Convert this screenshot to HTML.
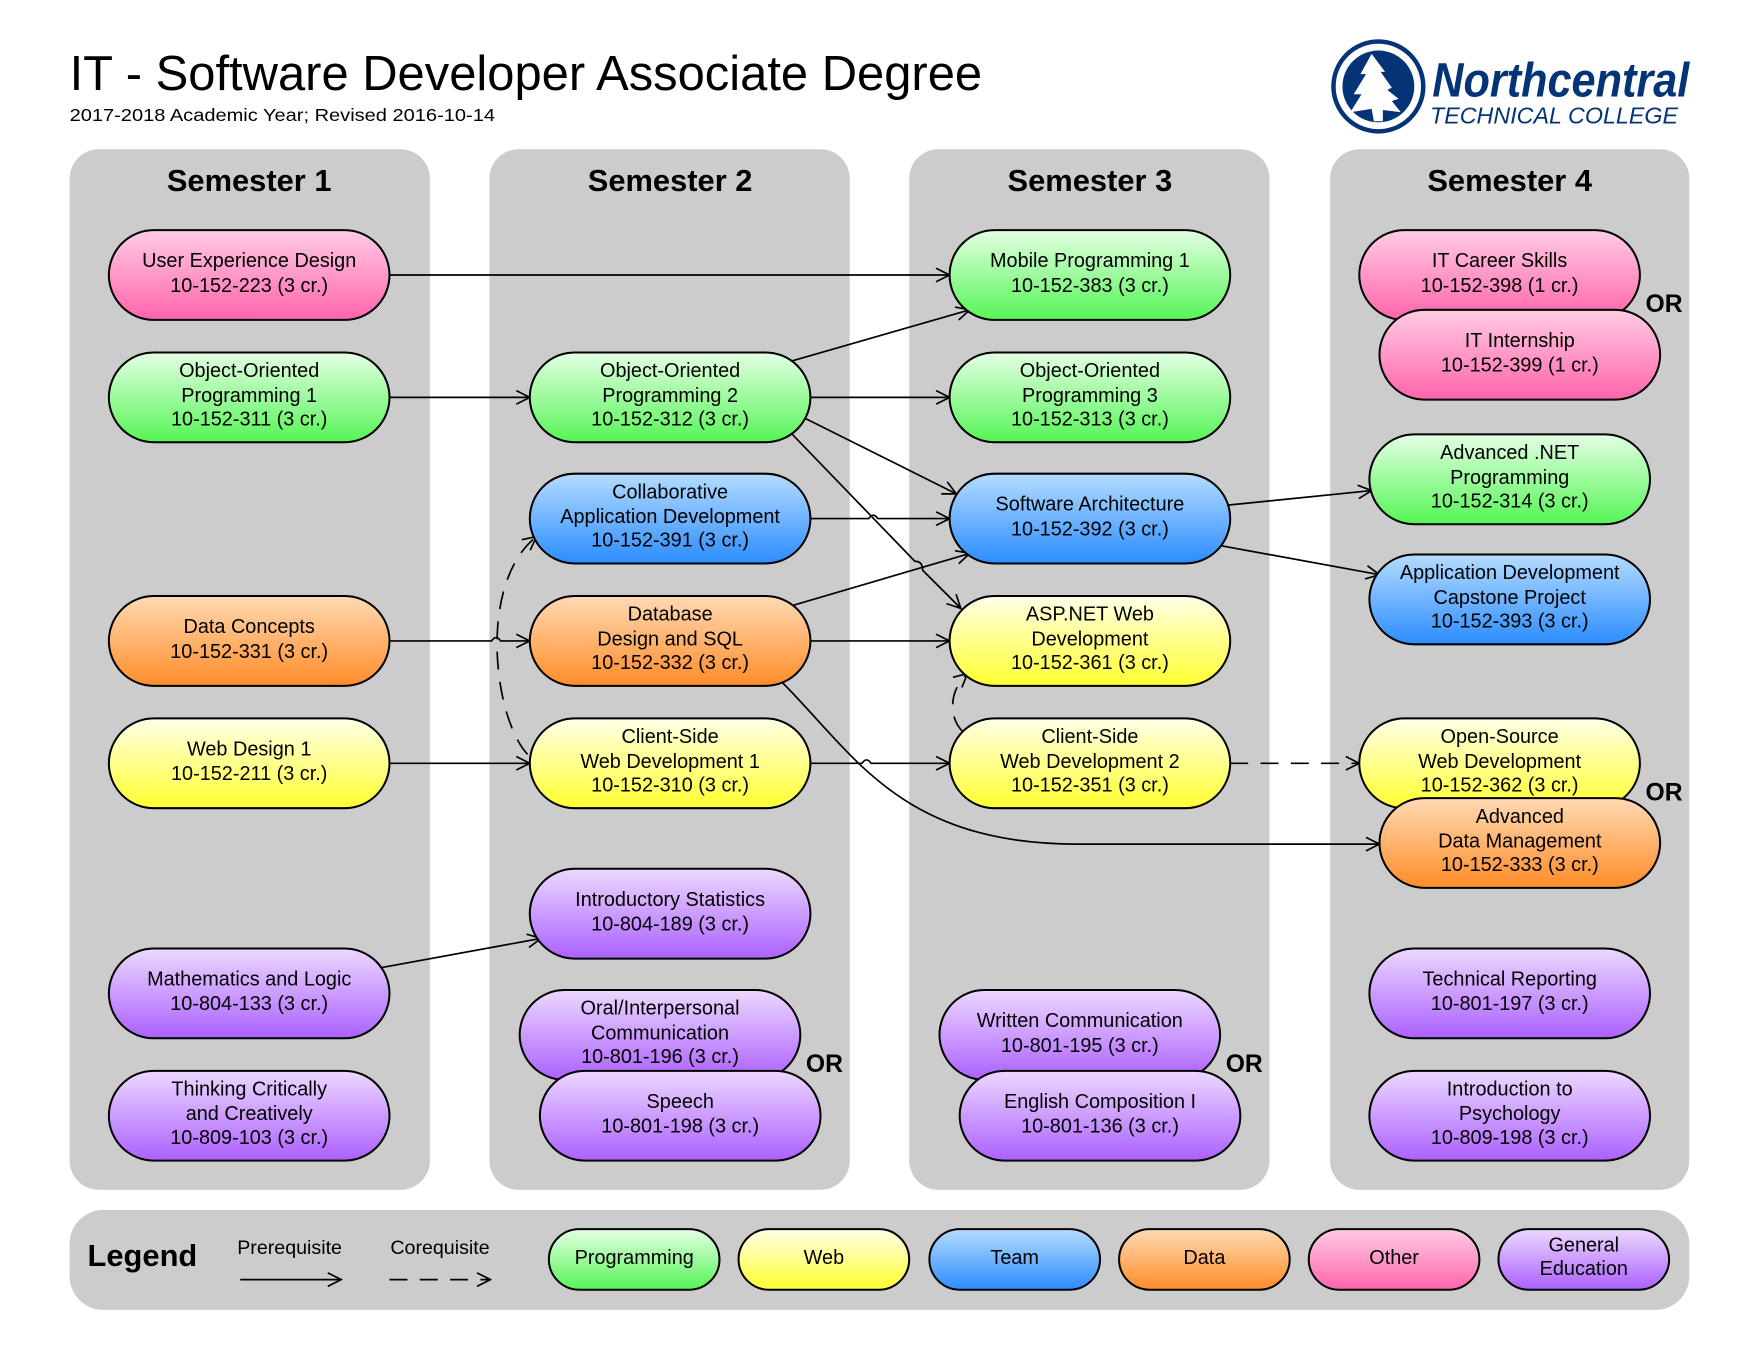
<!DOCTYPE html>
<html><head><meta charset="utf-8"><style>html,body{margin:0;padding:0;background:#fff}svg{display:block}</style></head>
<body>
<svg width="1760" height="1360" viewBox="0 0 1568 1211.6" xmlns="http://www.w3.org/2000/svg" font-family="'Liberation Sans', sans-serif">
<defs>
<linearGradient id="gG" x1="0" y1="0" x2="0" y2="1"><stop offset="0" stop-color="#e4ffe4"/><stop offset="1" stop-color="#55f555"/></linearGradient>
<linearGradient id="gY" x1="0" y1="0" x2="0" y2="1"><stop offset="0" stop-color="#ffffe8"/><stop offset="1" stop-color="#ffff30"/></linearGradient>
<linearGradient id="gB" x1="0" y1="0" x2="0" y2="1"><stop offset="0" stop-color="#b4dcff"/><stop offset="1" stop-color="#2c8cff"/></linearGradient>
<linearGradient id="gO" x1="0" y1="0" x2="0" y2="1"><stop offset="0" stop-color="#ffdab4"/><stop offset="1" stop-color="#ff8c28"/></linearGradient>
<linearGradient id="gP" x1="0" y1="0" x2="0" y2="1"><stop offset="0" stop-color="#ffcce4"/><stop offset="1" stop-color="#ff64ac"/></linearGradient>
<linearGradient id="gV" x1="0" y1="0" x2="0" y2="1"><stop offset="0" stop-color="#ecd8ff"/><stop offset="1" stop-color="#ac60ff"/></linearGradient>
<marker id="ar" viewBox="0 0 14 14" refX="13" refY="7" markerWidth="14" markerHeight="14" markerUnits="userSpaceOnUse" orient="auto"><path d="M1,1 L13,7 L1,13" fill="none" stroke="#000" stroke-width="1.5"/></marker>
<style>
.n rect{stroke:#000;stroke-width:1.8}
.n text{font-size:17.7px;text-anchor:middle;fill:#000}
.c{fill:none;stroke:#000;stroke-width:1.5;marker-end:url(#ar)}
.d{stroke-dasharray:16 11}
.or{font-size:22px;font-weight:bold}
.sem{font-size:27.5px;font-weight:bold;text-anchor:middle}
</style>
</defs>

<text x="62" y="80" font-size="44" textLength="813" lengthAdjust="spacingAndGlyphs">IT - Software Developer Associate Degree</text>
<text x="62" y="108" font-size="16" textLength="379" lengthAdjust="spacingAndGlyphs">2017-2018 Academic Year; Revised 2016-10-14</text>

<g fill="#043476">
<circle cx="1228" cy="77" r="40" fill="none" stroke="#043476" stroke-width="4"/>
<circle cx="1228" cy="77" r="32" fill="#043476"/>
<path d="M1222,48 L1212,66 L1217,66 L1206,84 L1213,84 L1203,100 L1222,97 L1224,108 L1232,108 L1232,98 L1248,100 L1240,90 L1246,88 L1236,80 L1240,78 L1230,64 L1234,64 Z" fill="#fff"/>
<text x="1276" y="86" font-size="43" font-weight="bold" font-style="italic" textLength="229" lengthAdjust="spacingAndGlyphs">Northcentral</text>
<text x="1274" y="110" font-size="21" font-style="italic" textLength="221" lengthAdjust="spacingAndGlyphs">TECHNICAL COLLEGE</text>
</g>

<g fill="#cccccc">
<rect x="62" y="133" width="321" height="927" rx="26"/>
<rect x="436" y="133" width="321" height="927" rx="26"/>
<rect x="810" y="133" width="321" height="927" rx="26"/>
<rect x="1185" y="133" width="320" height="927" rx="26"/>
<rect x="62" y="1078" width="1443" height="89" rx="30"/>
</g>
<text class="sem" x="222" y="170">Semester 1</text>
<text class="sem" x="597" y="170">Semester 2</text>
<text class="sem" x="971" y="170">Semester 3</text>
<text class="sem" x="1345" y="170">Semester 4</text>

<path class="c" d="M347,245 L846,245"/>
<path class="c" d="M347,354 L472,354"/>
<path class="c" d="M704,322 L864,276"/>
<path class="c" d="M722,354 L846,354"/>
<path class="c" d="M716,372 L852,440"/>
<path class="c" d="M704,385 L815,500 Q822,500 822,508 L856,542"/>
<path class="c" d="M722,462 L774,462 Q778,456 782,462 L846,462"/>
<path class="c" d="M704,540 L864,493"/>
<path class="c" d="M722,571 L846,571"/>
<path class="c" d="M347,571 L438,571 Q442,565 446,571 L472,571"/>
<path class="c" d="M347,680 L472,680"/>
<path class="c" d="M722,680 L768,680 Q772,674 776,680 L846,680"/>
<path class="c" d="M694,605 C760,670 800,752 960,752 L1229,752"/>
<path class="c d" d="M1096,680 L1211,680"/>
<path class="c d" d="M858,652 C845,640 845,615 862,600"/>
<path class="c d" d="M470,672 C440,640 425,520 478,478"/>
<path class="c" d="M1094,450 L1222,437"/>
<path class="c" d="M1087,486 L1229,512"/>
<path class="c" d="M340,862 L482,836"/>

<g class="n">
<g transform="translate(222,245)"><rect x="-125" y="-40" width="250" height="80" rx="40" fill="url(#gP)"/><text y="-7">User Experience Design</text><text y="15">10-152-223 (3 cr.)</text></g>
<g transform="translate(222,354)"><rect x="-125" y="-40" width="250" height="80" rx="40" fill="url(#gG)"/><text y="-18">Object-Oriented</text><text y="4">Programming 1</text><text y="25">10-152-311 (3 cr.)</text></g>
<g transform="translate(222,571)"><rect x="-125" y="-40" width="250" height="80" rx="40" fill="url(#gO)"/><text y="-7">Data Concepts</text><text y="15">10-152-331 (3 cr.)</text></g>
<g transform="translate(222,680)"><rect x="-125" y="-40" width="250" height="80" rx="40" fill="url(#gY)"/><text y="-7">Web Design 1</text><text y="15">10-152-211 (3 cr.)</text></g>
<g transform="translate(222,885)"><rect x="-125" y="-40" width="250" height="80" rx="40" fill="url(#gV)"/><text y="-7">Mathematics and Logic</text><text y="15">10-804-133 (3 cr.)</text></g>
<g transform="translate(222,994)"><rect x="-125" y="-40" width="250" height="80" rx="40" fill="url(#gV)"/><text y="-18">Thinking Critically</text><text y="4">and Creatively</text><text y="25">10-809-103 (3 cr.)</text></g>

<g transform="translate(597,354)"><rect x="-125" y="-40" width="250" height="80" rx="40" fill="url(#gG)"/><text y="-18">Object-Oriented</text><text y="4">Programming 2</text><text y="25">10-152-312 (3 cr.)</text></g>
<g transform="translate(597,462)"><rect x="-125" y="-40" width="250" height="80" rx="40" fill="url(#gB)"/><text y="-18">Collaborative</text><text y="4">Application Development</text><text y="25">10-152-391 (3 cr.)</text></g>
<g transform="translate(597,571)"><rect x="-125" y="-40" width="250" height="80" rx="40" fill="url(#gO)"/><text y="-18">Database</text><text y="4">Design and SQL</text><text y="25">10-152-332 (3 cr.)</text></g>
<g transform="translate(597,680)"><rect x="-125" y="-40" width="250" height="80" rx="40" fill="url(#gY)"/><text y="-18">Client-Side</text><text y="4">Web Development 1</text><text y="25">10-152-310 (3 cr.)</text></g>
<g transform="translate(597,814)"><rect x="-125" y="-40" width="250" height="80" rx="40" fill="url(#gV)"/><text y="-7">Introductory Statistics</text><text y="15">10-804-189 (3 cr.)</text></g>
<g transform="translate(588,922)"><rect x="-125" y="-40" width="250" height="80" rx="40" fill="url(#gV)"/><text y="-18">Oral/Interpersonal</text><text y="4">Communication</text><text y="25">10-801-196 (3 cr.)</text></g>
<g transform="translate(606,994)"><rect x="-125" y="-40" width="250" height="80" rx="40" fill="url(#gV)"/><text y="-7">Speech</text><text y="15">10-801-198 (3 cr.)</text></g>

<g transform="translate(971,245)"><rect x="-125" y="-40" width="250" height="80" rx="40" fill="url(#gG)"/><text y="-7">Mobile Programming 1</text><text y="15">10-152-383 (3 cr.)</text></g>
<g transform="translate(971,354)"><rect x="-125" y="-40" width="250" height="80" rx="40" fill="url(#gG)"/><text y="-18">Object-Oriented</text><text y="4">Programming 3</text><text y="25">10-152-313 (3 cr.)</text></g>
<g transform="translate(971,462)"><rect x="-125" y="-40" width="250" height="80" rx="40" fill="url(#gB)"/><text y="-7">Software Architecture</text><text y="15">10-152-392 (3 cr.)</text></g>
<g transform="translate(971,571)"><rect x="-125" y="-40" width="250" height="80" rx="40" fill="url(#gY)"/><text y="-18">ASP.NET Web</text><text y="4">Development</text><text y="25">10-152-361 (3 cr.)</text></g>
<g transform="translate(971,680)"><rect x="-125" y="-40" width="250" height="80" rx="40" fill="url(#gY)"/><text y="-18">Client-Side</text><text y="4">Web Development 2</text><text y="25">10-152-351 (3 cr.)</text></g>
<g transform="translate(962,922)"><rect x="-125" y="-40" width="250" height="80" rx="40" fill="url(#gV)"/><text y="-7">Written Communication</text><text y="15">10-801-195 (3 cr.)</text></g>
<g transform="translate(980,994)"><rect x="-125" y="-40" width="250" height="80" rx="40" fill="url(#gV)"/><text y="-7">English Composition I</text><text y="15">10-801-136 (3 cr.)</text></g>

<g transform="translate(1336,245)"><rect x="-125" y="-40" width="250" height="80" rx="40" fill="url(#gP)"/><text y="-7">IT Career Skills</text><text y="15">10-152-398 (1 cr.)</text></g>
<g transform="translate(1354,316)"><rect x="-125" y="-40" width="250" height="80" rx="40" fill="url(#gP)"/><text y="-7">IT Internship</text><text y="15">10-152-399 (1 cr.)</text></g>
<g transform="translate(1345,427)"><rect x="-125" y="-40" width="250" height="80" rx="40" fill="url(#gG)"/><text y="-18">Advanced .NET</text><text y="4">Programming</text><text y="25">10-152-314 (3 cr.)</text></g>
<g transform="translate(1345,534)"><rect x="-125" y="-40" width="250" height="80" rx="40" fill="url(#gB)"/><text y="-18">Application Development</text><text y="4">Capstone Project</text><text y="25">10-152-393 (3 cr.)</text></g>
<g transform="translate(1336,680)"><rect x="-125" y="-40" width="250" height="80" rx="40" fill="url(#gY)"/><text y="-18">Open-Source</text><text y="4">Web Development</text><text y="25">10-152-362 (3 cr.)</text></g>
<g transform="translate(1354,751)"><rect x="-125" y="-40" width="250" height="80" rx="40" fill="url(#gO)"/><text y="-18">Advanced</text><text y="4">Data Management</text><text y="25">10-152-333 (3 cr.)</text></g>
<g transform="translate(1345,885)"><rect x="-125" y="-40" width="250" height="80" rx="40" fill="url(#gV)"/><text y="-7">Technical Reporting</text><text y="15">10-801-197 (3 cr.)</text></g>
<g transform="translate(1345,994)"><rect x="-125" y="-40" width="250" height="80" rx="40" fill="url(#gV)"/><text y="-18">Introduction to</text><text y="4">Psychology</text><text y="25">10-809-198 (3 cr.)</text></g>
</g>

<text class="or" x="1466" y="278">OR</text>
<text class="or" x="1466" y="713">OR</text>
<text class="or" x="718" y="955">OR</text>
<text class="or" x="1092" y="955">OR</text>

<text x="78" y="1128" font-size="27.5" font-weight="bold">Legend</text>
<text x="258" y="1117" font-size="17.5" text-anchor="middle">Prerequisite</text>
<text x="392" y="1117" font-size="17.5" text-anchor="middle">Corequisite</text>
<path class="c" d="M214,1140 L304,1140"/>
<path class="c d" d="M347,1140 L437,1140"/>
<g class="n">
<g transform="translate(565,1122)"><rect x="-76" y="-27" width="152" height="54" rx="27" fill="url(#gG)"/><text y="4">Programming</text></g>
<g transform="translate(734,1122)"><rect x="-76" y="-27" width="152" height="54" rx="27" fill="url(#gY)"/><text y="4">Web</text></g>
<g transform="translate(904,1122)"><rect x="-76" y="-27" width="152" height="54" rx="27" fill="url(#gB)"/><text y="4">Team</text></g>
<g transform="translate(1073,1122)"><rect x="-76" y="-27" width="152" height="54" rx="27" fill="url(#gO)"/><text y="4">Data</text></g>
<g transform="translate(1242,1122)"><rect x="-76" y="-27" width="152" height="54" rx="27" fill="url(#gP)"/><text y="4">Other</text></g>
<g transform="translate(1411,1122)"><rect x="-76" y="-27" width="152" height="54" rx="27" fill="url(#gV)"/><text y="-7">General</text><text y="14">Education</text></g>
</g>
</svg>
</body></html>
